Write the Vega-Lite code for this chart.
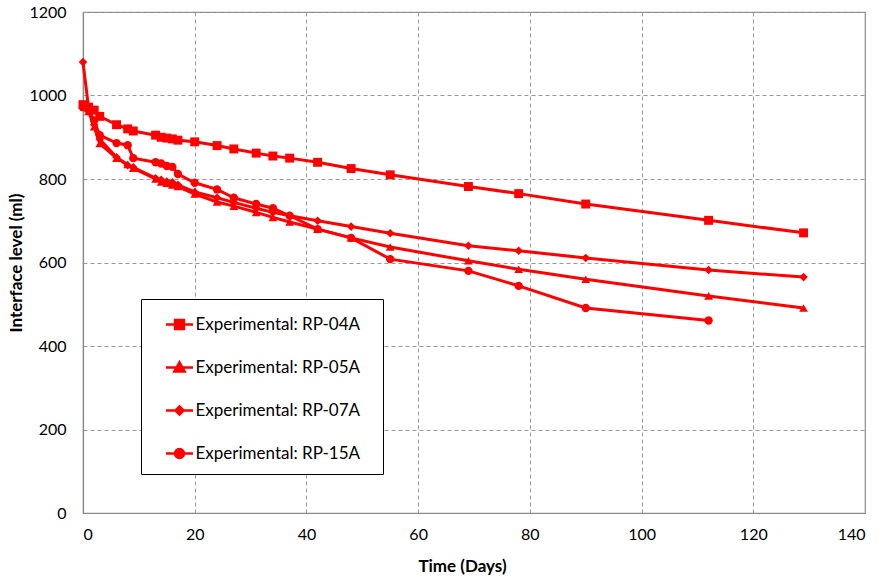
{
  "$schema": "https://vega.github.io/schema/vega-lite/v6.json",
  "autosize": "none",
  "width": 782,
  "height": 501,
  "padding": {"left": 83, "top": 12, "right": 14, "bottom": 66},
  "background": "white",
  "config": {
    "font": "Lato",
    "view": {"stroke": "#8a8a8a", "strokeWidth": 1.2},
    "axis": {
      "labelFont": "Lato", "labelFontSize": 16, "labelColor": "#000",
      "titleFont": "Lato", "titleFontSize": 17, "titleFontWeight": "bold", "titleColor": "#000",
      "domainColor": "#8a8a8a", "domainWidth": 1.2,
      "ticks": false,
      "gridColor": "#999", "gridDash": [4, 3], "gridWidth": 1
    }
  },
  "data": {"values": [
    {"s":"Experimental: RP-04A","d":0,"v":978},{"s":"Experimental: RP-04A","d":1,"v":972},{"s":"Experimental: RP-04A","d":2,"v":965},{"s":"Experimental: RP-04A","d":3,"v":950},{"s":"Experimental: RP-04A","d":6,"v":930},{"s":"Experimental: RP-04A","d":8,"v":920},{"s":"Experimental: RP-04A","d":9,"v":915},{"s":"Experimental: RP-04A","d":13,"v":905},{"s":"Experimental: RP-04A","d":14,"v":900},{"s":"Experimental: RP-04A","d":15,"v":898},{"s":"Experimental: RP-04A","d":16,"v":896},{"s":"Experimental: RP-04A","d":17,"v":893},{"s":"Experimental: RP-04A","d":20,"v":889},{"s":"Experimental: RP-04A","d":24,"v":880},{"s":"Experimental: RP-04A","d":27,"v":872},{"s":"Experimental: RP-04A","d":31,"v":862},{"s":"Experimental: RP-04A","d":34,"v":855},{"s":"Experimental: RP-04A","d":37,"v":850},{"s":"Experimental: RP-04A","d":42,"v":840},{"s":"Experimental: RP-04A","d":48,"v":825},{"s":"Experimental: RP-04A","d":55,"v":810},{"s":"Experimental: RP-04A","d":69,"v":782},{"s":"Experimental: RP-04A","d":78,"v":765},{"s":"Experimental: RP-04A","d":90,"v":740},{"s":"Experimental: RP-04A","d":112,"v":701},{"s":"Experimental: RP-04A","d":129,"v":671},
    {"s":"Experimental: RP-05A","d":0,"v":980},{"s":"Experimental: RP-05A","d":1,"v":962},{"s":"Experimental: RP-05A","d":2,"v":925},{"s":"Experimental: RP-05A","d":3,"v":885},{"s":"Experimental: RP-05A","d":6,"v":850},{"s":"Experimental: RP-05A","d":8,"v":835},{"s":"Experimental: RP-05A","d":9,"v":826},{"s":"Experimental: RP-05A","d":13,"v":800},{"s":"Experimental: RP-05A","d":14,"v":793},{"s":"Experimental: RP-05A","d":15,"v":790},{"s":"Experimental: RP-05A","d":16,"v":786},{"s":"Experimental: RP-05A","d":17,"v":782},{"s":"Experimental: RP-05A","d":20,"v":764},{"s":"Experimental: RP-05A","d":24,"v":745},{"s":"Experimental: RP-05A","d":27,"v":735},{"s":"Experimental: RP-05A","d":31,"v":720},{"s":"Experimental: RP-05A","d":34,"v":708},{"s":"Experimental: RP-05A","d":37,"v":697},{"s":"Experimental: RP-05A","d":42,"v":680},{"s":"Experimental: RP-05A","d":48,"v":659},{"s":"Experimental: RP-05A","d":55,"v":637},{"s":"Experimental: RP-05A","d":69,"v":604},{"s":"Experimental: RP-05A","d":78,"v":584},{"s":"Experimental: RP-05A","d":90,"v":560},{"s":"Experimental: RP-05A","d":112,"v":520},{"s":"Experimental: RP-05A","d":129,"v":491},
    {"s":"Experimental: RP-07A","d":0,"v":1080},{"s":"Experimental: RP-07A","d":1,"v":970},{"s":"Experimental: RP-07A","d":2,"v":930},{"s":"Experimental: RP-07A","d":3,"v":895},{"s":"Experimental: RP-07A","d":6,"v":852},{"s":"Experimental: RP-07A","d":8,"v":833},{"s":"Experimental: RP-07A","d":9,"v":828},{"s":"Experimental: RP-07A","d":13,"v":802},{"s":"Experimental: RP-07A","d":14,"v":798},{"s":"Experimental: RP-07A","d":15,"v":794},{"s":"Experimental: RP-07A","d":16,"v":792},{"s":"Experimental: RP-07A","d":17,"v":786},{"s":"Experimental: RP-07A","d":20,"v":769},{"s":"Experimental: RP-07A","d":24,"v":755},{"s":"Experimental: RP-07A","d":27,"v":744},{"s":"Experimental: RP-07A","d":31,"v":730},{"s":"Experimental: RP-07A","d":34,"v":720},{"s":"Experimental: RP-07A","d":37,"v":712},{"s":"Experimental: RP-07A","d":42,"v":700},{"s":"Experimental: RP-07A","d":48,"v":686},{"s":"Experimental: RP-07A","d":55,"v":670},{"s":"Experimental: RP-07A","d":69,"v":640},{"s":"Experimental: RP-07A","d":78,"v":628},{"s":"Experimental: RP-07A","d":90,"v":611},{"s":"Experimental: RP-07A","d":112,"v":582},{"s":"Experimental: RP-07A","d":129,"v":565},
    {"s":"Experimental: RP-15A","d":0,"v":972},{"s":"Experimental: RP-15A","d":1,"v":965},{"s":"Experimental: RP-15A","d":2,"v":940},{"s":"Experimental: RP-15A","d":3,"v":905},{"s":"Experimental: RP-15A","d":6,"v":886},{"s":"Experimental: RP-15A","d":8,"v":881},{"s":"Experimental: RP-15A","d":9,"v":850},{"s":"Experimental: RP-15A","d":13,"v":840},{"s":"Experimental: RP-15A","d":14,"v":837},{"s":"Experimental: RP-15A","d":15,"v":831},{"s":"Experimental: RP-15A","d":16,"v":829},{"s":"Experimental: RP-15A","d":17,"v":812},{"s":"Experimental: RP-15A","d":20,"v":791},{"s":"Experimental: RP-15A","d":24,"v":775},{"s":"Experimental: RP-15A","d":27,"v":755},{"s":"Experimental: RP-15A","d":31,"v":740},{"s":"Experimental: RP-15A","d":34,"v":730},{"s":"Experimental: RP-15A","d":37,"v":712},{"s":"Experimental: RP-15A","d":42,"v":680},{"s":"Experimental: RP-15A","d":48,"v":659},{"s":"Experimental: RP-15A","d":55,"v":608},{"s":"Experimental: RP-15A","d":69,"v":580},{"s":"Experimental: RP-15A","d":78,"v":544},{"s":"Experimental: RP-15A","d":90,"v":491},{"s":"Experimental: RP-15A","d":112,"v":461}
  ]},
  "encoding": {
    "x": {"field": "d", "type": "quantitative", "title": "Time (Days)",
      "scale": {"domain": [0, 140], "nice": false},
      "axis": {"values": [0,20,40,60,80,100,120,140], "format": "d", "labelPadding": 13, "titlePadding": 16, "titleX": 379}},
    "y": {"field": "v", "type": "quantitative", "title": "Interface level (ml)",
      "scale": {"domain": [0, 1200], "nice": false},
      "axis": {"values": [0,200,400,600,800,1000,1200], "format": "d", "labelPadding": 17, "titlePadding": 3}}
  },
  "layer": [
    {
      "mark": {"type": "line", "strokeWidth": 3},
      "encoding": {
        "color": {"field": "s", "type": "nominal",
          "scale": {"range": ["#ff0000", "#ff0000", "#ff0000", "#ff0000"]},
          "legend": {
            "title": ".", "titleOrient": "right", "titleOpacity": 0, "titleFontSize": 4, "titlePadding": 11,
            "orient": "none", "legendX": 58, "legendY": 287,
            "direction": "vertical",
            "strokeColor": "#000", "fillColor": "white", "padding": 10.5,
            "symbolSize": 729, "symbolOffset": 13, "labelOffset": 1,
            "rowPadding": 18, "labelFont": "Lato", "labelFontSize": 17, "labelColor": "#000",
            "labelLimit": 400,
            "encode": {"symbols": {"update": {
              "shape": {"signal": "datum.value === 'Experimental: RP-04A' ? 'M-1,0H1M-0.33,-0.33H0.33V0.33H-0.33Z' : datum.value === 'Experimental: RP-05A' ? 'M-1,0H1M0,-0.38L0.38,0.3H-0.38Z' : datum.value === 'Experimental: RP-07A' ? 'M-1,0H1M0,-0.3L0.3,0L0,0.3L-0.3,0Z' : 'M-1,0H1M0.33,0A0.33,0.33 0 1,1 -0.33,0A0.33,0.33 0 1,1 0.33,0Z'"},
              "fill": {"value": "#ff0000"},
              "stroke": {"value": "#ff0000"},
              "strokeWidth": {"value": 2.5},
              "opacity": {"value": 1}
            }}}
          }}
      }
    },
    {
      "mark": {"type": "point", "filled": true, "color": "#ff0000", "opacity": 1},
      "encoding": {
        "shape": {"field": "s", "type": "nominal",
          "scale": {"range": ["square", "triangle-up", "diamond", "circle"]}, "legend": null},
        "size": {"field": "s", "type": "ordinal",
          "scale": {"range": [80, 70, 55, 75]}, "legend": null}
      }
    }
  ]
}
